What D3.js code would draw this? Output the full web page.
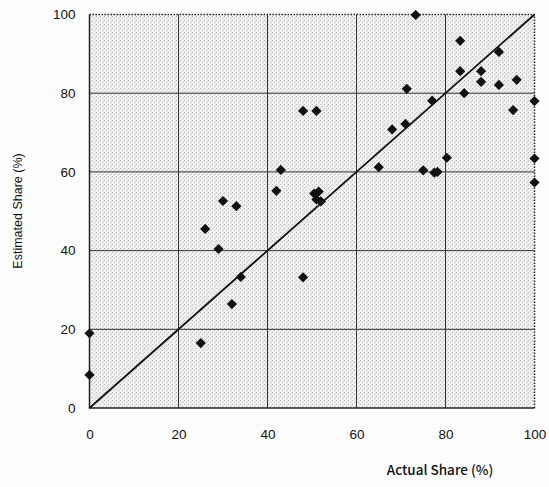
<!DOCTYPE html>
<html>
<head>
<meta charset="utf-8">
<script src="https://cdn.jsdelivr.net/npm/d3@7"></script>
<style>
  body { margin: 0; background: #fdfdfd; }
  text { font-family: "Liberation Sans", Arial, sans-serif; fill: #111; }
</style>
</head>
<body>
<svg id="chart" width="549" height="487"></svg>
<script>
// actual vs estimated shares
var actual = [0, 0, 25, 26, 29, 30, 33, 32, 34, 42, 43, 48, 48, 51, 50.5, 51.5, 51, 52,
    65, 68, 71, 71.3, 73.3, 75, 77.5, 78.2, 77, 80.3, 83.3, 83.3, 84.2, 88, 88, 92, 92, 95.2, 96, 100, 100, 100];
var estimated = [19, 8.4, 16.5, 45.5, 40.4, 52.6, 51.3, 26.4, 33.3, 55.2, 60.5, 33.2, 75.5, 75.5, 54.5, 55, 53, 52.5,
    61.2, 70.8, 72.2, 81.1, 99.9, 60.4, 59.8, 60, 78.1, 63.6, 93.3, 85.6, 80, 85.6, 82.9, 90.5, 82.1, 75.7, 83.4, 78, 63.4, 57.3];
var ticks = [0, 20, 40, 60, 80, 100];

var svg = d3.select("#chart");
var plotL = 89.5, plotR = 534.5, plotT = 14.5, plotB = 408;

var x = d3.scaleLinear().domain([0, 100]).range([plotL, plotR]);
var y = d3.scaleLinear().domain([0, 100]).range([plotB, plotT]);

// stippled grey background
var defs = svg.append("defs");
var pat = defs.append("pattern")
    .attr("id", "stipple")
    .attr("width", 4).attr("height", 4)
    .attr("patternUnits", "userSpaceOnUse");
pat.append("rect").attr("width", 4).attr("height", 4).attr("fill", "#efefef");
pat.append("rect").attr("x", 0).attr("y", 0).attr("width", 1).attr("height", 1).attr("fill", "#bdbdbd");
pat.append("rect").attr("x", 2).attr("y", 2).attr("width", 1).attr("height", 1).attr("fill", "#c6c6c6");
pat.append("rect").attr("x", 3).attr("y", 1).attr("width", 1).attr("height", 1).attr("fill", "#dcdcdc");

svg.append("rect")
    .attr("x", plotL).attr("y", plotT)
    .attr("width", plotR - plotL).attr("height", plotB - plotT)
    .attr("fill", "url(#stipple)");

// grid
var g = svg.append("g");
g.selectAll("line.vgrid")
    .data(ticks.slice(1, -1))
    .enter()
    .append("line")
    .attr("class", "vgrid")
    .attr("x1", d => x(d)).attr("x2", d => x(d))
    .attr("y1", plotT).attr("y2", plotB)
    .attr("stroke", "#333").attr("stroke-width", 1);
g.selectAll("line.hgrid")
    .data(ticks.slice(1, -1))
    .enter()
    .append("line")
    .attr("class", "hgrid")
    .attr("x1", plotL).attr("x2", plotR)
    .attr("y1", d => y(d)).attr("y2", d => y(d))
    .attr("stroke", "#333").attr("stroke-width", 1);

// frame: solid left/bottom, dotted top/right
g.append("path")
    .attr("d", `M${plotL},${plotT}V${plotB}H${plotR}`)
    .attr("fill", "none").attr("stroke", "#222").attr("stroke-width", 1.5);
g.append("path")
    .attr("d", `M${plotL},${plotT}H${plotR}V${plotB}`)
    .attr("fill", "none").attr("stroke", "#222").attr("stroke-width", 1.5)
    .attr("stroke-dasharray", "1.5,1.5");

// y = x reference line
g.append("line")
    .attr("x1", x(0)).attr("y1", y(0))
    .attr("x2", x(100)).attr("y2", y(100))
    .attr("stroke", "#111").attr("stroke-width", 1.8);

// axes (labels only)
var xAxis = svg.append("g")
    .attr("transform", `translate(0,${plotB})`)
    .call(d3.axisBottom(x).tickValues(ticks).tickSize(0).tickPadding(21));
xAxis.select(".domain").remove();
xAxis.selectAll("text").style("font-size", "13.5px").attr("fill", "#000");

var yAxis = svg.append("g")
    .attr("transform", `translate(${plotL},0)`)
    .call(d3.axisLeft(y).tickValues(ticks).tickSize(0).tickPadding(14));
yAxis.select(".domain").remove();
yAxis.selectAll("text").style("font-size", "13.5px").attr("fill", "#000");

// points
var diamond = d3.symbol().type(d3.symbolSquare).size(52);
g.selectAll("path.pt")
    .data(actual.map((a, i) => ({ a: a, e: estimated[i] })))
    .enter()
    .append("path")
    .attr("class", "pt")
    .attr("d", diamond)
    .attr("transform", d => `translate(${x(d.a)},${y(d.e)}) rotate(45)`)
    .attr("fill", "#111");

// titles
svg.append("text")
    .attr("x", 440).attr("y", 475)
    .style("text-anchor", "middle")
    .style("font-family", "'Noto Sans CJK JP', sans-serif")
    .style("font-size", "13.5px")
    .style("font-weight", 500)
    .attr("fill", "#000")
    .text("Actual Share (%)");

svg.append("text")
    .attr("transform", "translate(22,211) rotate(-90)")
    .style("text-anchor", "middle")
    .style("font-size", "12.5px")
    .attr("fill", "#000")
    .text("Estimated Share (%)");
</script>
</body>
</html>
